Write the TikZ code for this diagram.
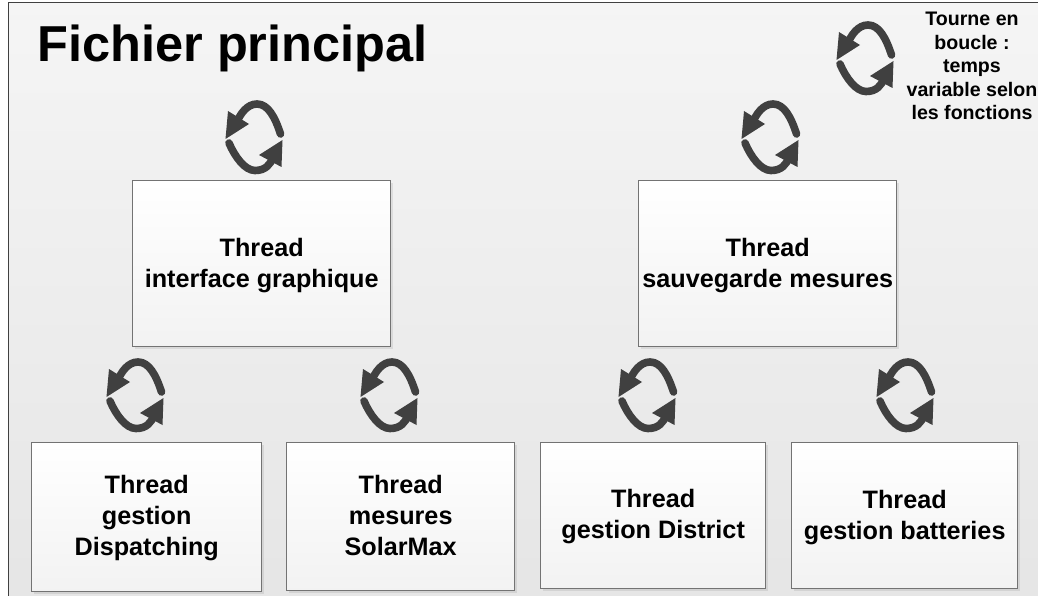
\documentclass[tikz,border=0pt]{standalone}
\usepackage{fontspec}
\setmainfont{Liberation Sans}
\usetikzlibrary{shadows}
\newcommand\thrtop{\rule{0pt}{21.5pt}Thread}
\newcommand\thrdepth[1]{\rule[-#1]{0pt}{#1}}
\tikzset{
  x=1pt,y=-1pt,
  threadbox/.style={draw=black!55,line width=1.4pt,top color=white,bottom color=black!5,align=center,
    font=\fontsize{25.2}{31.2}\selectfont\bfseries,inner sep=0pt,anchor=north west,
    drop shadow={shadow xshift=2pt,shadow yshift=-2pt,fill=black,opacity=0.08}},
  loopicon/.pic={
    \draw[line width=7.6pt,line cap=round,draw=black!75] (25.5,-3) .. controls (20,-20) and (13,-33) .. (2,-33)
       .. controls (-8,-33) and (-15,-23) .. (-19,-13);
    \fill[black!75] (-29.5,2) -- (-27,-26) -- (-6,-13) -- cycle;
    \draw[line width=7.6pt,line cap=round,draw=black!75] (-26,6) .. controls (-20,20) and (-10,33.5) .. (0,33.5)
       .. controls (11,33.5) and (15,27) .. (18,21);
    \fill[black!75] (27.5,3) -- (26.5,30) -- (4,18) -- cycle;
  }
}
\begin{document}
\begin{tikzpicture}
\useasboundingbox (0,0) rectangle (1038,596);
\path[top color=black!4,bottom color=black!10] (8,3) rectangle (1038,596);
\draw[black!75,line width=1pt] (8,596) -- (8,3) -- (1038,3);
\node[font=\fontsize{50.5}{56}\selectfont\bfseries,anchor=west] (title) at (34,48) {Fichier principal};
\pic at (255,137) {loopicon};
\pic at (771,137) {loopicon};
\pic at (136,395) {loopicon};
\pic at (390,395) {loopicon};
\pic at (648,395) {loopicon};
\pic at (906,395) {loopicon};
\pic at (866,58) {loopicon};
\node[threadbox,minimum width=258pt,minimum height=166pt] (ig) at (132,180) {\thrtop\\interface graphique};
\node[threadbox,minimum width=258pt,minimum height=166pt] (sm) at (638,180) {\thrtop\\sauvegarde mesures};
\node[threadbox,minimum width=230pt,minimum height=149pt] (gd) at (31,442) {\thrtop\\gestion\\Dispatching\thrdepth{7.5pt}};
\node[threadbox,minimum width=228pt,minimum height=148pt] (ms) at (286,442) {\thrtop\\mesures\\SolarMax\thrdepth{6pt}};
\node[threadbox,minimum width=225pt,minimum height=146pt] (di) at (540,442) {\thrtop\\gestion District\thrdepth{7pt}};
\node[threadbox,minimum width=226pt,minimum height=146pt] (gb) at (791,442) {\thrtop\\gestion batteries};
\node[align=center,font=\fontsize{19.6}{23.5}\selectfont\bfseries,inner sep=0pt] (legend) at (972,66) {Tourne en\\boucle :\\temps\\variable selon\\les fonctions};
\end{tikzpicture}
\end{document}
